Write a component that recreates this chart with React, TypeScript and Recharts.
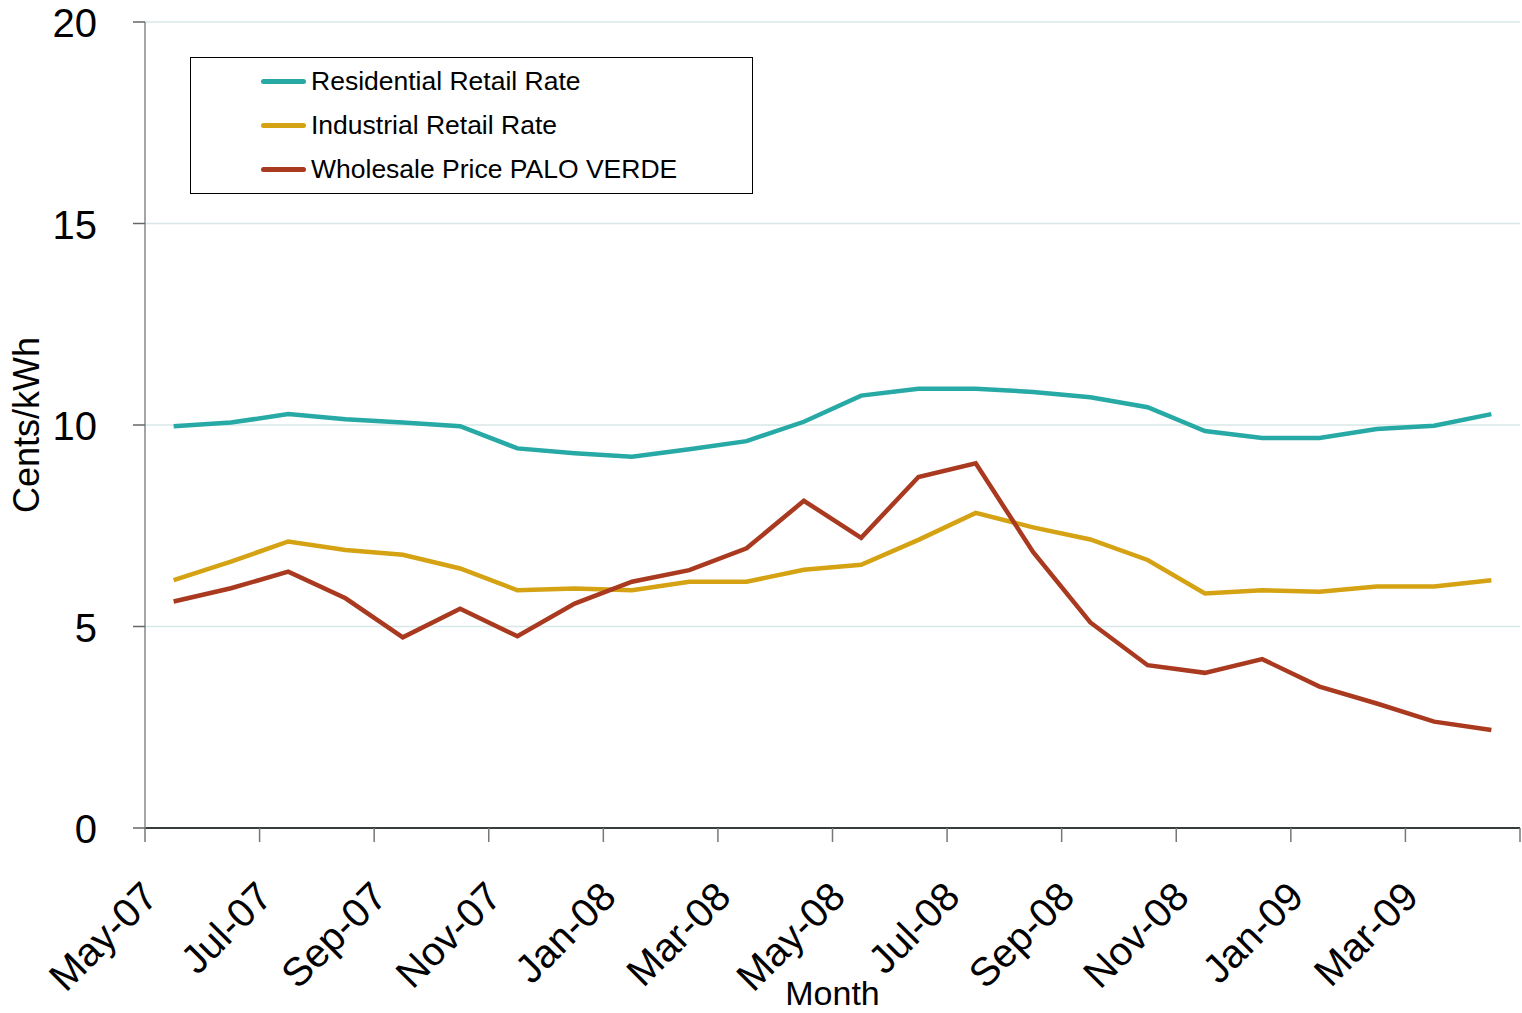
import { LineChart, Line, XAxis, YAxis, CartesianGrid, Legend } from 'recharts';

const months = [
  'May-07', 'Jun-07', 'Jul-07', 'Aug-07', 'Sep-07', 'Oct-07', 'Nov-07', 'Dec-07',
  'Jan-08', 'Feb-08', 'Mar-08', 'Apr-08', 'May-08', 'Jun-08', 'Jul-08', 'Aug-08',
  'Sep-08', 'Oct-08', 'Nov-08', 'Dec-08', 'Jan-09', 'Feb-09', 'Mar-09', 'Apr-09',
];

const residential = [
  9.97, 10.06, 10.27, 10.14, 10.06, 9.97, 9.42, 9.3, 9.21, 9.4, 9.6, 10.08,
  10.73, 10.9, 10.9, 10.82, 10.69, 10.44, 9.85, 9.68, 9.68, 9.9, 9.98, 10.27,
];
const industrial = [
  6.15, 6.61, 7.11, 6.9, 6.78, 6.44, 5.9, 5.94, 5.9, 6.11, 6.11, 6.41,
  6.53, 7.15, 7.82, 7.46, 7.16, 6.65, 5.82, 5.9, 5.86, 5.99, 5.99, 6.15,
];
const wholesale = [
  5.62, 5.95, 6.36, 5.7, 4.73, 5.44, 4.76, 5.57, 6.11, 6.4, 6.94, 8.12,
  7.2, 8.71, 9.05, 6.85, 5.1, 4.04, 3.85, 4.19, 3.51, 3.09, 2.64, 2.43,
];

const xTicks = [0, 2, 4, 6, 8, 10, 12, 14, 16, 18, 20, 22, 24];
const yTicks = [0, 5, 10, 15, 20];

const series = [
  { key: 'residential', name: 'Residential Retail Rate', color: '#27a9a5' },
  { key: 'industrial', name: 'Industrial Retail Rate', color: '#d4a212' },
  { key: 'wholesale', name: 'Wholesale Price PALO VERDE', color: '#a93a20' },
];

// each month sits in the middle of its slot, ticks fall on slot edges
const data = months.map((m, i) => ({
  x: i + 0.5,
  month: m,
  residential: residential[i],
  industrial: industrial[i],
  wholesale: wholesale[i],
}));

const FONT = '"Liberation Sans", Arial, sans-serif';

function XTick(props: any) {
  const { x, y, payload } = props;
  const label = months[payload.value] ?? '';
  if (!label) return null;
  const tx = x + 15;
  const ty = y + 55;
  return (
    <text
      x={tx}
      y={ty}
      transform={`rotate(-45, ${tx}, ${ty})`}
      textAnchor="end"
      fontSize={40}
      fontFamily={FONT}
      fill="#000"
    >
      {label}
    </text>
  );
}

function YTick(props: any) {
  const { x, y, payload } = props;
  return (
    <text x={x - 34} y={y + 15} textAnchor="end" fontSize={40} fontFamily={FONT} fill="#000">
      {payload.value}
    </text>
  );
}

function YLabel(props: any) {
  const { viewBox } = props;
  const cy = viewBox.y + viewBox.height / 2;
  const cx = 39;
  return (
    <text
      x={cx}
      y={cy}
      transform={`rotate(-90, ${cx}, ${cy})`}
      textAnchor="middle"
      fontSize={36}
      fontFamily={FONT}
      fill="#000"
    >
      Cents/kWh
    </text>
  );
}

function XLabel(props: any) {
  const { viewBox } = props;
  return (
    <text
      x={viewBox.x + viewBox.width / 2}
      y={1005}
      textAnchor="middle"
      fontSize={34}
      fontFamily={FONT}
      fill="#000"
    >
      Month
    </text>
  );
}

function LegendBox() {
  return (
    <div
      style={{
        boxSizing: 'border-box',
        width: 563,
        height: 137,
        border: '1px solid #000',
        background: '#fff',
        position: 'relative',
        fontFamily: FONT,
        fontSize: 26.5,
      }}
    >
      {series.map((s, i) => (
        <div
          key={s.key}
          style={{
            position: 'absolute',
            left: 70,
            top: 23 + i * 44 - 16,
            height: 32,
            display: 'flex',
            alignItems: 'center',
            whiteSpace: 'nowrap',
          }}
        >
          <span
            style={{
              display: 'inline-block',
              width: 45,
              height: 5,
              borderRadius: 3,
              background: s.color,
              marginRight: 5,
            }}
          />
          <span>{s.name}</span>
        </div>
      ))}
    </div>
  );
}

export default function App() {
  return (
    <div style={{ position: 'absolute', left: 0, top: 0 }}>
      <LineChart
        width={1522}
        height={1013}
        data={data}
        margin={{ top: 22, right: 2, left: 0, bottom: 0 }}
      >
        <CartesianGrid horizontal vertical={false} stroke="#d8e8e8" strokeWidth={1.5} />
        <XAxis
          dataKey="x"
          type="number"
          domain={[0, 24]}
          ticks={xTicks}
          interval={0}
          height={185}
          tickSize={14}
          axisLine={{ stroke: '#000', strokeWidth: 1.5 }}
          tickLine={{ stroke: '#777', strokeWidth: 1.5 }}
          tick={<XTick />}
          label={<XLabel />}
        />
        <YAxis
          type="number"
          domain={[0, 20]}
          ticks={yTicks}
          width={145}
          tickSize={12}
          axisLine={{ stroke: '#888', strokeWidth: 1.5 }}
          tickLine={{ stroke: '#666', strokeWidth: 1.5 }}
          tick={<YTick />}
          label={<YLabel />}
        />
        <Legend
          layout="horizontal"
          verticalAlign="middle"
          content={<LegendBox />}
          wrapperStyle={{ left: 190, top: 57, width: 563, height: 137 }}
        />
        {series.map((s) => (
          <Line
            key={s.key}
            type="linear"
            dataKey={s.key}
            name={s.name}
            stroke={s.color}
            strokeWidth={4.5}
            dot={false}
            activeDot={false}
            isAnimationActive={false}
          />
        ))}
      </LineChart>
    </div>
  );
}
